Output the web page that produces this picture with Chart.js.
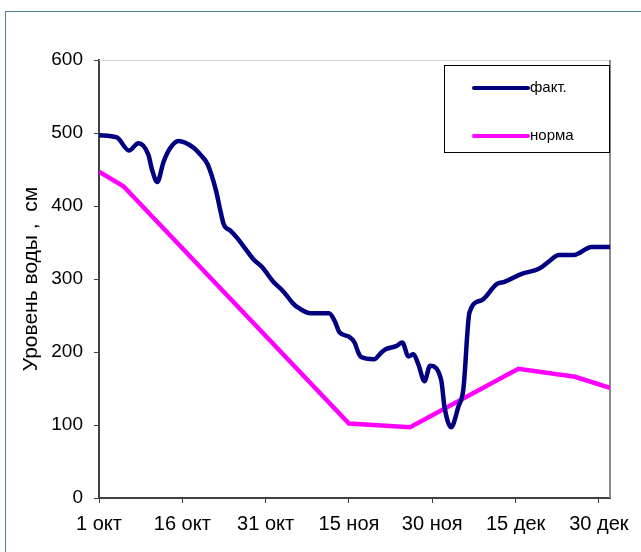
<!DOCTYPE html>
<html>
<head>
<meta charset="utf-8">
<script src="https://cdn.jsdelivr.net/npm/chart.js@4/dist/chart.umd.min.js"></script>
<style>
  html, body { margin: 0; padding: 0; background: #fff; }
  body { width: 641px; height: 552px; position: relative; overflow: hidden; }
  #frame { position: absolute; left: 5px; top: 11px; width: 700px; height: 600px;
           border-left: 1px solid #4f7f95; border-top: 1px solid #4f7f95; }
  #c { position: absolute; left: 0; top: 0; }
</style>
</head>
<body>
<div id="frame"></div>
<canvas id="c" width="641" height="552"></canvas>
<script>
// Days counted from 1 October
const tickDays   = [0, 15, 30, 45, 60, 75, 90];
const tickLabels = ['1 окт', '16 окт', '31 окт', '15 ноя', '30 ноя', '15 дек', '30 дек'];
const levelTicks = [0, 100, 200, 300, 400, 500, 600];

// Observed water level, cm
const factDays = [0, 3.2, 5.4, 7.1, 8.9, 9.5, 10.5, 11.6, 12.8, 14.3, 17, 18.3, 19.5, 20.2, 21.1, 21.9,
  22.5, 23.7, 24.9, 26.4, 27.8, 29.4, 31.3, 33.3, 35, 36, 38.1, 41.4, 42.4, 43.3, 45, 46, 46.7, 47.2,
  49.5, 50.8, 51.7, 53.5, 54.6, 55.7, 56.6, 57.5, 58.6, 59.6, 61.6, 62.2, 63.4, 64.7, 65.6, 66.7,
  68.9, 71.6, 73, 76.1, 79.2, 81, 82.8, 85.5, 88.7, 92];
const factLevels = [497, 494, 476, 486, 470, 451, 433, 460, 479, 489, 480, 470, 458, 444, 420, 392,
  374, 366, 356, 341, 327, 316, 297, 282, 266, 260, 253, 253, 243, 227, 221, 213, 199, 193,
  190, 199, 204, 208, 213, 194, 197, 183, 160, 181, 162, 125, 97, 125, 149, 254,
  271, 293, 296, 307, 314, 324, 333, 333, 344, 344];

// Normative level, cm
const normDays   = [0, 4.4, 45, 56, 75.5, 85.7, 92];
const normLevels = [447, 427, 102, 97, 177, 166, 151];

const FONT = '"Liberation Sans", Arial, sans-serif';

const toXY = (xs, ys) => xs.map((x, i) => ({ x: x, y: ys[i] }));

// Plot frame: light top edge, grey right edge
const frameLines = {
  id: 'frameLines',
  beforeDatasetsDraw(chart) {
    const { ctx, chartArea: a } = chart;
    ctx.save();
    ctx.strokeStyle = '#d8d8d8';
    ctx.lineWidth = 1;
    ctx.beginPath();
    ctx.moveTo(a.left, a.top + 0.5);
    ctx.lineTo(a.right, a.top + 0.5);
    ctx.stroke();
    ctx.strokeStyle = '#8c8c8c';
    ctx.lineWidth = 2;
    ctx.beginPath();
    ctx.moveTo(a.right, a.top);
    ctx.lineTo(a.right, a.bottom);
    ctx.stroke();
    ctx.restore();
  }
};

// Boxed legend in the upper right corner of the plot
const boxLegend = {
  id: 'boxLegend',
  afterDraw(chart) {
    const { ctx, chartArea: a } = chart;
    const x0 = a.right - 166, y0 = a.top + 5, w = 165, h = 87;
    ctx.save();
    ctx.fillStyle = '#fff';
    ctx.fillRect(x0, y0, w, h);
    ctx.strokeStyle = '#000';
    ctx.lineWidth = 1;
    ctx.strokeRect(x0 + 0.5, y0 + 0.5, w, h);
    ctx.font = '15px ' + FONT;
    ctx.textBaseline = 'middle';
    chart.data.datasets.forEach((ds, i) => {
      const y = y0 + 23 + i * 48;
      ctx.strokeStyle = ds.borderColor;
      ctx.lineWidth = 4;
      ctx.lineCap = 'round';
      ctx.beginPath();
      ctx.moveTo(x0 + 30, y);
      ctx.lineTo(x0 + 84, y);
      ctx.stroke();
      ctx.fillStyle = '#000';
      ctx.fillText(ds.label, x0 + 86, y);
    });
    ctx.restore();
  }
};

new Chart(document.getElementById('c'), {
  type: 'line',
  data: {
    datasets: [
      {
        label: 'факт.',
        data: toXY(factDays, factLevels),
        borderColor: '#000080',
        borderWidth: 4.5,
        pointRadius: 0,
        cubicInterpolationMode: 'monotone',
        fill: false
      },
      {
        label: 'норма',
        data: toXY(normDays, normLevels),
        borderColor: '#ff00ff',
        borderWidth: 4.5,
        pointRadius: 0,
        tension: 0,
        fill: false
      }
    ]
  },
  options: {
    responsive: false,
    animation: false,
    devicePixelRatio: 1,
    layout: { padding: { left: 0, top: 60, right: 31, bottom: 0 } },
    plugins: { legend: { display: false }, tooltip: { enabled: false } },
    scales: {
      x: {
        type: 'linear',
        min: 0,
        max: 92,
        afterFit(s) { s.height = 54; },
        afterBuildTicks(s) { s.ticks = tickDays.map(v => ({ value: v })); },
        ticks: {
          color: '#000',
          font: { family: FONT, size: 20 },
          padding: 9,
          maxRotation: 0,
          autoSkip: false,
          callback(v) { const i = tickDays.indexOf(v); return i >= 0 ? tickLabels[i] : ''; }
        },
        grid: { drawOnChartArea: false, drawTicks: true, tickLength: 5, color: '#404040', lineWidth: 1 },
        border: { color: '#404040', width: 2 }
      },
      y: {
        min: 0,
        max: 600,
        afterFit(s) { s.width = 99; },
        afterBuildTicks(s) { s.ticks = levelTicks.map(v => ({ value: v })); },
        ticks: {
          color: '#000',
          font: { family: FONT, size: 19 },
          padding: 11
        },
        grid: { drawOnChartArea: false, drawTicks: true, tickLength: 5, color: '#404040', lineWidth: 1 },
        border: { color: '#404040', width: 2 },
        title: {
          display: true,
          text: 'Уровень воды ,  см',
          color: '#000',
          font: { family: FONT, size: 21 },
          padding: { top: 19, bottom: 0 }
        }
      }
    }
  },
  plugins: [frameLines, boxLegend]
});
</script>
</body>
</html>
